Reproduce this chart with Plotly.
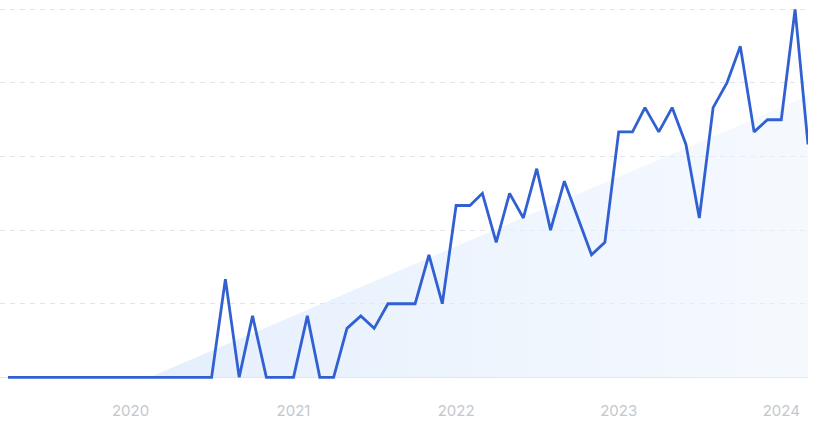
import pandas as pd
import plotly.graph_objects as go

# Monthly interest values (scaled 0-100), Apr 2019 .. Mar 2024
months = pd.date_range("2019-04-01", periods=60, freq="MS")
values = [
    0, 0, 0, 0, 0, 0, 0, 0, 0,            # 2019-04 .. 2019-12
    0, 0, 0, 0, 0, 0, 0, 26.7, 0, 16.7, 0, 0,   # 2020
    0, 16.7, 0, 0, 13.3, 16.7, 13.3, 20, 20, 20, 33.3, 20,  # 2021
    46.7, 46.7, 50, 36.7, 50, 43.3, 56.7, 40, 53.3, 43.3, 33.3, 36.7,  # 2022
    66.7, 66.7, 73.3, 66.7, 73.3, 63.3, 43.3, 73.3, 80, 90, 66.7, 70,  # 2023
    70, 100, 63.3,  # 2024
]

# Trend wedge (start at zero, end value at last month)
trend_dates = ["2020-02-13", "2024-03-01"]
trend_values = [0, 76.5]

year_ticks = ["2020-01-01", "2021-01-01", "2022-01-01", "2023-01-01", "2024-01-01"]
year_labels = ["2020", "2021", "2022", "2023", "2024"]
grid_vals = [0, 20, 40, 60, 80, 100]

fig = go.Figure()

fig.add_trace(go.Scatter(
    x=[trend_dates[0], trend_dates[1], trend_dates[1]],
    y=[trend_values[0], trend_values[1], 0],
    mode="none",
    fill="toself",
    fillgradient=dict(
        type="horizontal",
        colorscale=[[0, "rgba(214,230,251,0.65)"], [1, "rgba(236,244,254,0.5)"]],
    ),
    hoverinfo="skip",
    showlegend=False,
))

fig.add_trace(go.Scatter(
    x=months,
    y=values,
    mode="lines",
    line=dict(color="#3160d2", width=2.8),
    showlegend=False,
))

fig.update_layout(
    width=815,
    height=421,
    margin=dict(l=0, r=7, t=2, b=40),
    paper_bgcolor="white",
    plot_bgcolor="white",
    xaxis=dict(
        range=["2019-03-14", "2024-03-01"],
        tickvals=year_ticks,
        ticktext=year_labels,
        showgrid=False,
        zeroline=False,
        showline=False,
        ticks="outside",
        ticklen=16,
        tickcolor="rgba(0,0,0,0)",
        tickfont=dict(family="Inter", size=15, color="#c3c7ce"),
    ),
    yaxis=dict(
        range=[-1, 102],
        tickvals=grid_vals,
        showticklabels=False,
        showgrid=True,
        gridcolor="#dfe5ec",
        gridwidth=1,
        griddash="5px,5px",
        zeroline=True,
        zerolinecolor="#dfe6ee",
        zerolinewidth=1,
    ),
)

fig.write_html(
    "out.html",
    config={"displayModeBar": False},
    post_script="document.body.style.margin='0';document.body.style.overflow='hidden';",
)
